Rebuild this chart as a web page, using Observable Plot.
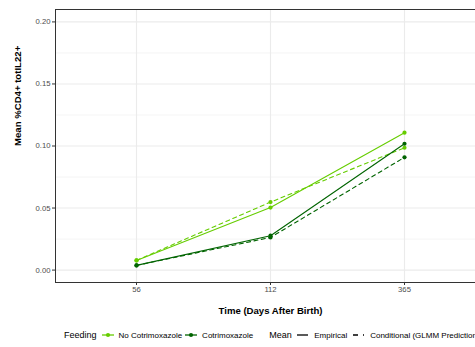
<!DOCTYPE html>
<html><head><meta charset="utf-8">
<script src="https://cdn.jsdelivr.net/npm/d3@7"></script>
<script src="https://cdn.jsdelivr.net/npm/@observablehq/plot@0.6"></script>
<style>
body{margin:0;background:#fff;font-family:"Liberation Sans",Arial,sans-serif;}
#wrap{position:relative;width:475px;height:347px;overflow:hidden;background:#fff;}
#chart svg{max-width:none !important;display:block;}
#legend{position:absolute;left:64px;top:326px;height:18px;display:flex;align-items:center;white-space:nowrap;color:#000;}
#legend .title{font-size:9px;}
#legend .lab{font-size:8px;}
#legend svg{display:block;}
</style></head><body>
<div id="wrap"><div id="chart"></div><div id="legend"></div></div>
<script>
const days = ["56", "112", "365"];
const feedings = ["No Cotrimoxazole", "Cotrimoxazole"];
const means = ["Empirical", "Conditional (GLMM Prediction)"];
const noCotriEmpirical = [0.0078, 0.0504, 0.1107];
const noCotriConditional = [0.0078, 0.0548, 0.0986];
const cotriEmpirical = [0.0038, 0.0277, 0.1018];
const cotriConditional = [0.0038, 0.0263, 0.0909];
const yTicks = [0, 0.05, 0.10, 0.15, 0.20];
const yMinor = [0.025, 0.075, 0.125, 0.175];
const colors = ["#66CD00", "#006400"];

const series = [
  {feeding: feedings[0], mean: means[0], values: noCotriEmpirical},
  {feeding: feedings[0], mean: means[1], values: noCotriConditional},
  {feeding: feedings[1], mean: means[0], values: cotriEmpirical},
  {feeding: feedings[1], mean: means[1], values: cotriConditional}
];

const marks = [
  Plot.ruleY(yMinor, {stroke: "#ebebeb", strokeWidth: 0.55}),
  Plot.ruleY(yTicks, {stroke: "#ebebeb", strokeWidth: 1.1}),
  Plot.ruleX(days, {stroke: "#ebebeb", strokeWidth: 1.1})
];
for (const s of series) {
  const rows = days.map((d, i) => ({day: d, value: s.values[i], feeding: s.feeding}));
  marks.push(Plot.line(rows, {x: "day", y: "value", stroke: "feeding", strokeWidth: 1.1,
    strokeDasharray: s.mean === means[1] ? "4,3.5" : null}));
  marks.push(Plot.dot(rows, {x: "day", y: "value", fill: "feeding", r: 2.1}));
}
marks.push(
  Plot.frame({stroke: "#333", strokeWidth: 1}),
  Plot.axisY(yTicks, {tickSize: 3, tickPadding: 2, tickFormat: d3.format(".2f"), fontSize: 7.7, fill: "#4d4d4d", stroke: "#333", label: null}),
  Plot.axisX({tickSize: 3, tickPadding: 1.5, fontSize: 7.7, fill: "#4d4d4d", stroke: "#333", label: null}),
  Plot.text(["Time (Days After Birth)"], {text: d => d, frameAnchor: "bottom", dy: 28, fontWeight: "bold", fontSize: 9.6, fill: "#000", lineAnchor: "middle"}),
  Plot.text(["Mean %CD4+ totIL22+"], {text: d => d, frameAnchor: "left", dx: -38, rotate: -90, fontWeight: "bold", fontSize: 9.6, fill: "#000", lineAnchor: "middle"})
);

const chart = Plot.plot({
  width: 485, height: 320,
  marginLeft: 55, marginRight: 0, marginTop: 9, marginBottom: 38,
  style: {fontFamily: "Liberation Sans, Arial, sans-serif", background: "white", maxWidth: "none"},
  x: {type: "point", domain: days, padding: 0.6, axis: null},
  y: {domain: [-0.01, 0.21], axis: null},
  color: {domain: feedings, range: colors},
  marks
});
chart.style.maxWidth = "none";
document.getElementById("chart").appendChild(chart);

// legend
const leg = document.getElementById("legend");
function span(text, cls, mr) {
  const s = document.createElement("span");
  s.className = cls; s.textContent = text; s.style.marginRight = mr + "px";
  leg.appendChild(s);
}
function key(color, dash, dot, w, mr) {
  const ns = "http://www.w3.org/2000/svg";
  const svg = document.createElementNS(ns, "svg");
  svg.setAttribute("width", w); svg.setAttribute("height", 10);
  svg.style.marginRight = mr + "px";
  const l = document.createElementNS(ns, "line");
  l.setAttribute("x1", 0); l.setAttribute("x2", w); l.setAttribute("y1", 5); l.setAttribute("y2", 5);
  l.setAttribute("stroke", color); l.setAttribute("stroke-width", 1.3);
  if (dash) l.setAttribute("stroke-dasharray", dash);
  svg.appendChild(l);
  if (dot) {
    const c = document.createElementNS(ns, "circle");
    c.setAttribute("cx", w / 2); c.setAttribute("cy", 5); c.setAttribute("r", 2.1); c.setAttribute("fill", color);
    svg.appendChild(c);
  }
  leg.appendChild(svg);
}
span("Feeding", "title", 5);
key(colors[0], null, true, 12, 5);
span(feedings[0], "lab", 3);
key(colors[1], null, true, 12, 5);
span(feedings[1], "lab", 16);
span("Mean", "title", 5.5);
key("#000", null, false, 11, 6);
span(means[0], "lab", 6);
key("#000", "5,5", false, 11, 6);
span(means[1], "lab", 0);
</script>
</body></html>
